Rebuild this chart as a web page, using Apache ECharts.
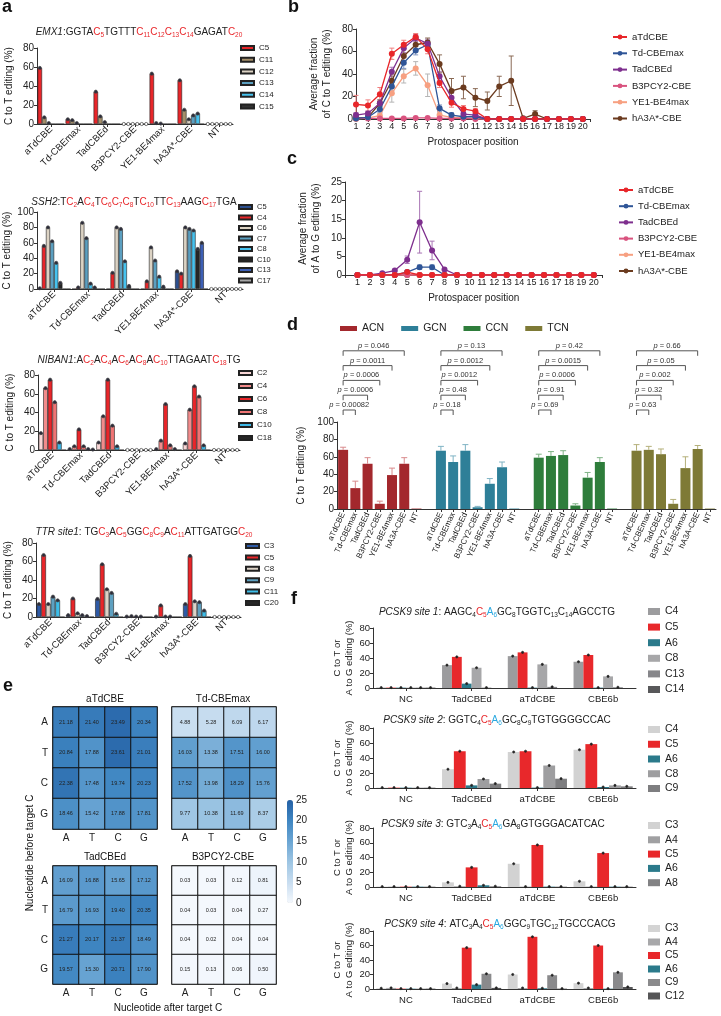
<!DOCTYPE html>
<html><head><meta charset="utf-8">
<script src="https://cdn.jsdelivr.net/npm/echarts@6/dist/echarts.min.js"></script>
<style>html,body{margin:0;padding:0;background:#fff}#c{width:721px;height:1016px}</style>
</head><body><div id="c"></div><script>
// ---------------- DATA ----------------
const catsA7 = ['aTdCBE','Td-CBEmax','TadCBEd','B3PCY2-CBE','YE1-BE4max','hA3A*-CBE','NT'];
const catsA6 = ['aTdCBE','Td-CBEmax','TadCBEd','YE1-BE4max','hA3A*-CBE','NT'];

const emx1Keys = ['C5','C11','C12','C13','C14','C15'];
const emx1Vals = [
  [59,5,34,0,53,46,0],
  [7,4,8,0,1,15,0],
  [1,1,2,0,0.5,5,0],
  [0,0,0,0,0,9,0],
  [0,0,0,0,0,11,0],
  [0,0,0,0,0,0,0]];

const ssh2Keys = ['C5','C4','C6','C7','C8','C10','C13','C17'];
const ssh2Vals = [
  [1,0,0,0,23,0],
  [56,2,21,10,20,0],
  [80,86,80,54,80,0],
  [62,66,78,37,78,0],
  [34,7,36,16,76,0],
  [8,2,4,3,52,0],
  [0,0,0,0,60,0],
  [0,0,0,0,0,0]];

const nibKeys = ['C2','C4','C6','C8','C10','C18'];
const nibVals = [
  [18,1,8,0,1,7,0],
  [66,4,36,0,10,43,0],
  [75,22,75,0,49,68,0],
  [51,4,26,0,5,57,0],
  [8,1,4,0,1,5,0],
  [0,0.5,0,0,0,0,0]];

const ttrKeys = ['C3','C5','C8','C9','C11','C20'];
const ttrVals = [
  [14,2,19.5,0.5,0.5,14,0],
  [67,20,57,1,12.5,66,0],
  [14,4,30,0.5,0.5,17,0],
  [22,2,26,0.5,0.5,16,0],
  [18,1,3.5,0,0,7,0],
  [0,0,0,0,0,0,0]];

// panel b / c : protospacer positions 1..20
const positions = [1,2,3,4,5,6,7,8,9,10,11,12,13,14,15,16,17,18,19,20];
const editors = ['aTdCBE','Td-CBEmax','TadCBEd','B3PCY2-CBE','YE1-BE4max','hA3A*-CBE'];
const bATd   = [13,12,22,58,66,73,62,32,14.5,9,7,0,0,0,0,0,0,0,0,0];
const bTdMax = [0.5,1.5,8.6,29,50,61,66,9.5,3.5,2,2,0,0,0,0,0,0,0,0,0];
const bTadD  = [3.5,5,14,42,63,72,67,38,19,4.4,3.5,0,0,0,0,0,0,0,0,0];
const bB3    = [0.5,0.5,0.5,0.5,0.5,1,1,0.5,0.5,0.5,0,0,0,0,0,0,0,0,0,0];
const bYE1   = [0,1,3,23,38,45,30,3.5,1.5,1,0.5,0,0,0,0,0,0,0,0,0];
const bA3A   = [1,1.5,14,34,56,66,68,49,25,28,19,16,29,34,0.6,4.4,0,0,0,0];
const bATdErr   = [8,5,6,5,4,3,4,4,4,3,2,0,0,0,0,0,0,0,0,0];
const bTdMaxErr = [0,1,3,4,5,4,4,3,2,1,1,0,0,0,0,0,0,0,0,0];
const bTadDErr  = [2,2,3,4,4,3,4,4,4,2,1,0,0,0,0,0,0,0,0,0];
const bB3Err    = [0,0,0,0,0,0,0,0,0,0,0,0,0,0,0,0,0,0,0,0];
const bYE1Err   = [0,0,2,8,6,6,10,2,1,0,0,0,0,0,0,0,0,0,0,0];
const bA3AErr   = [0,0,3,6,7,5,4,8,11,10,8,8,9,22,0,3,0,0,0,0];

const cATd   = [0,0,0,0,0.8,0,0,0,0,0,0,0,0,0,0,0,0,0,0,0];
const cTdMax = [0,0,0,0,0.8,2.1,2.1,0,0,0,0,0,0,0,0,0,0,0,0,0];
const cTadD  = [0,0,0.5,1.2,4.1,14.2,6.6,1.5,0,0,0,0,0,0,0,0,0,0,0,0];
const cB3    = [0,0,0,0,0,0,0,0,0,0,0,0,0,0,0,0,0,0,0,0];
const cYE1   = [0,0,0,0,0,0,0,0,0,0,0,0,0,0,0,0,0,0,0,0];
const cA3A   = [0,0,0,0,0,0,0,0,0,0,0,0,0,0,0,0,0,0,0,0];
const cTadDErr  = [0,0,0,0.3,1,8.3,2.5,0.3,0,0,0,0,0,0,0,0,0,0,0,0];
const cTdMaxErr = [0,0,0,0,0.3,0.6,0.6,0,0,0,0,0,0,0,0,0,0,0,0,0];

// panel d
const dEditors = ['aTdCBE','Td-CBEmax','TadCBEd','B3PCY2-CBE','YE1-BE4max','hA3A-CBE','NT'];
const dMotifs = ['ACN','GCN','CCN','TCN'];
const dACN = [68,24,52,6,39,52,0.5];
const dGCN = [67,54,67,2,29,48,0.5];
const dCCN = [59,61,62,4,36,54,0.5];
const dTCN = [67,68,63,6,47,69,0.5];
const dACNErr = [3,8,7,3,8,7,0];
const dGCNErr = [5,7,7,1,6,6,0];
const dCCNErr = [4,5,5,2,6,5,0];
const dTCNErr = [7,4,6,5,13,4,0];
const dPACN = ['0.00082','0.0006','0.0006','0.0011','0.046'];
const dPGCN = ['0.18','0.48','0.0012','0.0012','0.13'];
const dPCCN = ['0.69','0.91','0.0006','0.0015','0.42'];
const dPTCN = ['0.63','0.32','0.002','0.05','0.66'];

// panel e heatmaps (rows: nucleotide before, cols: nucleotide after)
const nts = ['A','T','C','G'];
const hmATd = [[21.18,21.40,23.49,20.34],[20.84,17.88,23.61,21.01],[22.38,17.48,19.74,20.23],[18.46,15.42,17.88,17.81]];
const hmTdMax = [[4.88,5.28,6.09,6.17],[16.03,13.38,17.51,16.00],[17.52,13.98,18.29,15.76],[9.77,10.38,11.69,8.37]];
const hmTadD = [[16.09,16.88,15.65,17.12],[16.79,16.93,19.40,20.35],[21.27,20.17,21.37,18.49],[19.57,15.30,20.71,17.90]];
const hmB3 = [[0.03,0.03,0.12,0.81],[0.04,0.03,0.04,0.27],[0.04,0.02,0.04,0.04],[0.15,0.13,0.06,0.50]];

// panel f
const fCats = ['NC','TadCBEd','aTdCBE','CBE6b'];
const f1Keys = ['C4','C5','A6','C8','C13','C14'];
const f1Vals = [[0.5,30.5,42.5,35],[0.5,41.5,47.5,44],[0.5,5.8,0.5,0.5],[0.5,27,31.5,15.5],[0.5,0.5,1.5,1],[0.5,0,0,0]];
const f2Keys = ['C4','C5','A6','C8','C9'];
const f2Vals = [[0.5,25,48,51],[0.5,49,49,58.5],[0.5,3.5,0.5,1.3],[0.5,12,30,3.5],[0.5,5.8,12.4,2.2]];
const f3Keys = ['C3','A4','C5','A6','A8'];
const f3Vals = [[0.5,6.3,31.5,7.7],[0.5,1,0.5,0.5],[0.5,26.6,57,46],[0.5,2.3,0.5,0.5],[0.5,1,0.5,0.5]];
const f4Keys = ['C3','A4','C5','A6','C9','C12'];
const f4Vals = [[1,7.4,20,8],[1.5,1.4,1.4,1.4],[0.5,57,72,60],[0.5,6,1,0.5],[0.5,21,19,23],[0.5,1.5,0.5,2.8]];

// ---------------- BUILD ----------------
const FF = 'Liberation Sans';
const grids = [], xAxes = [], yAxes = [], series = [], legends = [], graphics = [];
const strip = n => n.slice(n.indexOf('|') + 1);
const axLine = {show:true, lineStyle:{color:'#333', width:1}};
const axTick = {show:true, length:3, lineStyle:{color:'#333'}};

// replicate-marker dots on top of grouped bars (positions derived from the category band)
function dotSeries(gi, vals, gapFrac, zeroCats, st) {
  const n = vals.length, items = [];
  vals.forEach((row, s) => row.forEach((v, c) => { if (v > 0 || zeroCats.indexOf(c) >= 0) items.push([c, v, s]); }));
  return {type:'custom', xAxisIndex:gi, yAxisIndex:gi, data:items, encode:{x:0, y:1}, z:5, silent:true,
    renderItem(params, api) {
      const c = api.value(0), v = api.value(1), s = api.value(2);
      const pt = api.coord([c, v]);
      const bw = api.size([1, 0])[0] * (1 - gapFrac);
      const x = pt[0] - bw / 2 + (s + 0.5) * bw / n;
      return {type:'circle', shape:{cx:x, cy:pt[1], r:st.r},
        style:{fill:v > 0 ? st.fill : '#fff', stroke:st.stroke, lineWidth:0.7}};
    }};
}

function barPanel(p) {
  const gi = grids.length;
  grids.push({left:p.left, top:p.top, width:p.width, height:p.height});
  xAxes.push({type:'category', gridIndex:gi, data:p.cats, axisLine:axLine,
    axisTick:{show:true, alignWithLabel:true, length:3, lineStyle:{color:'#333'}},
    axisLabel:{interval:0, rotate:p.rotate || 0, fontSize:p.xFont, color:'#222', fontFamily:FF, margin:p.xMargin || 4}});
  yAxes.push({type:'value', gridIndex:gi, min:0, max:p.max, interval:20, axisLine:axLine, axisTick:axTick,
    splitLine:{show:false}, axisLabel:{fontSize:p.yFont || 10, color:'#222', fontFamily:FF, margin:3},
    name:p.yName, nameLocation:'middle', nameGap:p.nameGap,
    nameTextStyle:{fontSize:p.nameFont || 10, color:'#222', fontFamily:FF, lineHeight:12}});
  const names = [];
  p.keys.forEach((k, i) => {
    const nm = p.id + '|' + k; names.push(nm);
    series.push({type:'bar', name:nm, xAxisIndex:gi, yAxisIndex:gi, data:p.vals[i],
      barGap:'0%', barCategoryGap:p.catGap,
      itemStyle:{color:p.colors[i], borderColor:p.border ? '#222' : p.colors[i], borderWidth:p.border ? 0.6 : 0}});
  });
  series.push(dotSeries(gi, p.vals, parseFloat(p.catGap) / 100, p.zeroCats || [], p.dot));
  legends.push({orient:'vertical', left:p.leg.left, top:p.leg.top, itemWidth:p.leg.iw, itemHeight:p.leg.ih,
    itemGap:p.leg.gap, padding:0, icon:'rect', selectedMode:false, data:names, formatter:strip,
    textStyle:{fontSize:p.leg.font, color:'#222', fontFamily:FF, lineHeight:10}});
  return gi;
}

const aDot = {r:1.6, fill:'#2b2b3b', stroke:'#444'};
const aCommon = {border:true, xFont:9.5, rotate:45, yName:'C to T editing (%)', nameGap:22, catGap:'4%', dot:aDot};
barPanel(Object.assign({}, aCommon, {id:'emx', left:37, top:48, width:196, height:76, cats:catsA7, max:80,
  keys:emx1Keys, vals:emx1Vals, colors:['#e8262a','#a58f6a','#dcd3c4','#5b9fc0','#47c2ee','#333333'], zeroCats:[3,6],
  leg:{left:240, top:43, iw:13, ih:4, gap:1.7, font:8}}));
barPanel(Object.assign({}, aCommon, {id:'ssh', left:37, top:212, width:206, height:77, cats:catsA6, max:100,
  keys:ssh2Keys, vals:ssh2Vals, colors:['#2c4f8f','#e8262a','#dcd3c4','#5b9fc0','#47c2ee','#262626','#3d5fb5','#a7a7a7'], zeroCats:[5],
  leg:{left:238, top:202, iw:13, ih:4, gap:0.5, font:7.5}}));
barPanel(Object.assign({}, aCommon, {id:'nib', left:38, top:375, width:202, height:75, cats:catsA7, max:80,
  keys:nibKeys, vals:nibVals, colors:['#f8d6d6','#f28b8b','#e8262a','#ef7474','#3db7e6','#262626'], zeroCats:[3,6],
  leg:{left:238, top:368, iw:13, ih:4, gap:3, font:8}}));
barPanel(Object.assign({}, aCommon, {id:'ttr', left:36, top:543, width:205, height:74, cats:catsA7, max:80,
  keys:ttrKeys, vals:ttrVals, colors:['#2e5aa6','#e8262a','#dcd3c8','#5ea0c0','#3dbde8','#262626'], zeroCats:[6],
  leg:{left:245, top:541, iw:13, ih:4, gap:1.4, font:8}}));

// error bar custom series helper
function errSeries(gi, items, color, capW, onlyUp, z) {
  return {type:'custom', xAxisIndex:gi, yAxisIndex:gi, data:items, encode:{x:0, y:1}, z:z || 1, silent:true,
    renderItem(params, api) {
      const x = api.value(0), y = api.value(1), e = api.value(2);
      const t = api.coord([x, y + e]), b = api.coord([x, onlyUp ? y : Math.max(0, y - e)]);
      const h = capW / 2, st = {stroke:color, lineWidth:1};
      const ch = [
        {type:'line', shape:{x1:t[0], y1:t[1], x2:b[0], y2:b[1]}, style:st},
        {type:'line', shape:{x1:t[0] - h, y1:t[1], x2:t[0] + h, y2:t[1]}, style:st}];
      if (!onlyUp) ch.push({type:'line', shape:{x1:b[0] - h, y1:b[1], x2:b[0] + h, y2:b[1]}, style:st});
      return {type:'group', children:ch};
    }};
}

// ---- panels b, c ----
const edColors = ['#e8262a','#2f5597','#7e2f8e','#d9537f','#f7a081','#6b3b1f'];
const errColors = ['#f08080','#8296c0','#a874b4','#e08aa8','#b5b5b5','#8a6a55'];
function linePanel(p) {
  const gi = grids.length;
  grids.push({left:p.left, top:p.top, width:p.width, height:p.height});
  xAxes.push({type:'value', gridIndex:gi, min:p.xmin, max:p.xmax, interval:1, axisLine:axLine, axisTick:axTick,
    splitLine:{show:false},
    axisLabel:{fontSize:9, color:'#222', fontFamily:FF, margin:3,
      formatter:v => (v >= 1 && v <= 20 && Math.abs(v - Math.round(v)) < 1e-6) ? String(Math.round(v)) : ''},
    name:'Protospacer position', nameLocation:'middle', nameGap:p.xNameGap,
    nameTextStyle:{fontSize:10, color:'#222', fontFamily:FF}});
  yAxes.push({type:'value', gridIndex:gi, min:0, max:p.ymax, interval:p.yint, axisLine:axLine, axisTick:axTick,
    splitLine:{show:false}, axisLabel:{fontSize:10, color:'#222', fontFamily:FF, margin:3},
    name:p.yName, nameLocation:'middle', nameGap:p.yNameGap,
    nameTextStyle:{fontSize:10, color:'#222', fontFamily:FF, lineHeight:13}});
  const names = editors.map(e => p.id + '|' + e);
  p.errs.forEach((er, i) => {
    if (!er) return;
    const items = [];
    er.forEach((e, j) => { if (e > 0) items.push([positions[j], p.vals[i][j], e]); });
    series.push(errSeries(gi, items, errColors[i], 5, false, 1));
  });
  p.order.forEach((i, k) => {
    series.push({type:'line', name:names[i], xAxisIndex:gi, yAxisIndex:gi, z:3 + k,
      data:positions.map((x, j) => [x, p.vals[i][j]]), symbol:'circle', symbolSize:p.sym,
      lineStyle:{width:1.3, color:edColors[i]}, itemStyle:{color:edColors[i]}});
  });
  legends.push({orient:'vertical', left:p.leg.left, top:p.leg.top, itemWidth:14, itemHeight:6, itemGap:p.leg.gap,
    padding:0, selectedMode:false, data:names, formatter:strip,
    textStyle:{fontSize:9.5, color:'#222', fontFamily:FF, lineHeight:10}});
}
linePanel({id:'b', left:356, top:29, width:234, height:90, xmin:1, xmax:20.6, ymax:80, yint:20, xNameGap:18,
  yName:'Average fraction\nof C to T editing (%)', yNameGap:22, sym:6,
  vals:[bATd,bTdMax,bTadD,bB3,bYE1,bA3A], errs:[bATdErr,bTdMaxErr,bTadDErr,bB3Err,bYE1Err,bA3AErr],
  order:[5,4,3,1,2,0], leg:{left:612, top:32, gap:6.3}});
linePanel({id:'c', left:345, top:182, width:257.5, height:93, xmin:0, xmax:20.7, ymax:25, yint:5, xNameGap:18,
  yName:'Average fraction\nof A to G editing (%)', yNameGap:22, sym:6,
  vals:[cATd,cTdMax,cTadD,cB3,cYE1,cA3A], errs:[null,cTdMaxErr,cTadDErr,null,null,null],
  order:[5,4,1,2,3,0], leg:{left:618, top:185, gap:6.2}});

// ---- panel d ----
{
  const gi = grids.length;
  const cats = [];
  dMotifs.forEach((m, g) => { dEditors.forEach(e => cats.push(e)); if (g < 3) cats.push(''); });
  grids.push({left:337, top:422, width:379, height:87});
  xAxes.push({type:'category', gridIndex:gi, data:cats, axisLine:axLine,
    axisTick:{show:true, alignWithLabel:true, length:3, lineStyle:{color:'#333'}, interval:(i, v) => v !== ''},
    axisLabel:{interval:0, rotate:65, fontSize:8, color:'#222', fontFamily:FF, margin:4}});
  yAxes.push({type:'value', gridIndex:gi, min:0, max:100, interval:20, axisLine:axLine, axisTick:axTick,
    splitLine:{show:false}, axisLabel:{fontSize:10, color:'#222', fontFamily:FF, margin:3},
    name:'C to T editing (%)', nameLocation:'middle', nameGap:24,
    nameTextStyle:{fontSize:10, color:'#222', fontFamily:FF}});
  const dVals = [dACN, dGCN, dCCN, dTCN], dErrs = [dACNErr, dGCNErr, dCCNErr, dTCNErr];
  const dCols = ['#a3282d','#2e7f98','#2e7d3b','#7e7a36'];
  const dErrCols = ['#d88a8c','#7fb3c4','#7fb386','#b4b07a'];
  const names = [];
  dVals.forEach((vals, g) => {
    const data = cats.map(() => '-');
    const errItems = [];
    vals.forEach((v, j) => { data[g * 8 + j] = v; if (dErrs[g][j] > 0) errItems.push([g * 8 + j, v, dErrs[g][j]]); });
    const nm = 'd|' + dMotifs[g]; names.push(nm);
    series.push({type:'bar', name:nm, xAxisIndex:gi, yAxisIndex:gi, data, barGap:'-100%', barWidth:10,
      itemStyle:{color:dCols[g]}});
    series.push(errSeries(gi, errItems, dErrCols[g], 6, true, 4));
  });
  legends.push({orient:'horizontal', left:340, top:323, itemWidth:17, itemHeight:5, itemGap:17, padding:0,
    icon:'rect', selectedMode:false, data:names, formatter:strip,
    textStyle:{fontSize:10.5, color:'#222', fontFamily:FF}});
  // significance brackets
  const pAll = [dPACN, dPGCN, dPCCN, dPTCN];
  const br = [];
  pAll.forEach((ps, g) => ps.forEach((p, k) => br.push({from:g * 8, to:g * 8 + k + 1, lvl:k, p})));
  series.push({type:'custom', xAxisIndex:gi, yAxisIndex:gi, silent:true, z:6, encode:{x:0, y:1},
    data:br.map(b => [b.from, 100, b.to]),
    renderItem(params, api) {
      const b = br[params.dataIndex];
      const p1 = api.coord([b.from, 100]), p2 = api.coord([b.to, 100]);
      const y = p1[1] - (12 + b.lvl * 14.8);
      return {type:'group', children:[
        {type:'polyline', shape:{points:[[p1[0], y + 5], [p1[0], y], [p2[0], y], [p2[0], y + 5]]},
          style:{stroke:'#555', lineWidth:1, fill:null}},
        {type:'text', style:{text:'{i|p} = ' + b.p, x:(p1[0] + p2[0]) / 2, y:y - 1, align:'center',
          verticalAlign:'bottom', fontSize:7.5, fontFamily:FF, fill:'#333',
          rich:{i:{fontStyle:'italic', fontSize:7.5, fontFamily:FF, fill:'#333'}}}}]};
    }});
}

// ---- panel e: heatmaps ----
const hmSeriesIdx = [];
function heatPanel(m, left, top, h, showY) {
  const gi = grids.length;
  grids.push({left, top, width:104, height:h, show:true, borderColor:'#666', borderWidth:1.5, backgroundColor:'transparent'});
  xAxes.push({type:'category', gridIndex:gi, data:nts, axisLine:{show:false}, axisTick:{show:false},
    splitLine:{show:false}, axisLabel:{fontSize:10, color:'#222', fontFamily:FF, margin:4}});
  yAxes.push({type:'category', gridIndex:gi, data:nts, inverse:true, axisLine:{show:false}, axisTick:{show:false},
    axisLabel:{show:showY, fontSize:10, color:'#222', fontFamily:FF, margin:5}});
  const data = [];
  m.forEach((row, r) => row.forEach((v, c) => data.push([c, r, v])));
  hmSeriesIdx.push(series.length);
  series.push({type:'heatmap', xAxisIndex:gi, yAxisIndex:gi, data,
    label:{show:true, fontSize:5.5, color:'#222', fontFamily:FF, formatter:p => p.value[2].toFixed(2)},
    itemStyle:{borderColor:'#111', borderWidth:1}});
}
heatPanel(hmATd, 53, 707, 122, true);
heatPanel(hmTdMax, 172, 707, 122, false);
heatPanel(hmTadD, 53, 866, 118, true);
heatPanel(hmB3, 172, 866, 118, false);
{
  const gi = grids.length;
  grids.push({left:287, top:800, width:6, height:103});
  xAxes.push({type:'value', gridIndex:gi, show:false, min:0, max:1});
  yAxes.push({type:'value', gridIndex:gi, position:'right', min:0, max:25, interval:5, axisLine:{show:false},
    axisTick:{show:false}, splitLine:{show:false}, axisLabel:{fontSize:10, color:'#222', fontFamily:FF, margin:3}});
}

// ---- panel f ----
const fTeal = '#2b7a8b', fRed = '#e8282b';
const fDot = {r:1.1, fill:'#222', stroke:'#222'};
const fCommon = {border:false, xFont:9.5, rotate:0, yName:'C to T or\nA to G editing (%)', nameGap:16, nameFont:9.5,
  catGap:'10%', yFont:9.5, xMargin:6, dot:fDot};
barPanel(Object.assign({}, fCommon, {id:'f1', left:373, top:628, width:263, height:60, cats:fCats, max:80,
  keys:f1Keys, vals:f1Vals, colors:['#9c9c9e',fRed,fTeal,'#a7a7a9','#86868a','#58585a'],
  leg:{left:648, top:606, iw:12, ih:7, gap:4.6, font:10.5}}));
barPanel(Object.assign({}, fCommon, {id:'f2', left:373, top:728, width:263, height:60, cats:fCats, max:80,
  keys:f2Keys, vals:f2Vals, colors:['#d2d2d2',fRed,fTeal,'#9e9ea0','#7e7e80'],
  leg:{left:648, top:724, iw:12, ih:7, gap:3.75, font:10.5}}));
barPanel(Object.assign({}, fCommon, {id:'f3', left:373, top:828, width:263, height:59, cats:fCats, max:80,
  keys:f3Keys, vals:f3Vals, colors:['#d2d2d2','#a0a0a2',fRed,fTeal,'#828284'],
  leg:{left:648, top:820, iw:12, ih:7, gap:3.3, font:10.5}}));
barPanel(Object.assign({}, fCommon, {id:'f4', left:373, top:931, width:263, height:58, cats:fCats, max:80,
  keys:f4Keys, vals:f4Vals, colors:['#d4d4d4','#a8a8aa',fRed,fTeal,'#8a8a8c','#555557'],
  leg:{left:648, top:923, iw:12, ih:7, gap:2.5, font:10.5}}));

// ---------------- TEXT (titles, panel letters) ----------------
const richA = {
  i:{fontStyle:'italic', fontSize:10, fontFamily:FF, fill:'#222', lineHeight:14},
  n:{fontSize:10, fontFamily:FF, fill:'#222', lineHeight:14},
  r:{fontSize:10, fontFamily:FF, fill:'#e8262a', lineHeight:14},
  rs:{fontSize:6.5, fontFamily:FF, fill:'#e8262a', lineHeight:14, verticalAlign:'bottom'},
  s:{fontSize:6.5, fontFamily:FF, fill:'#222', lineHeight:14, verticalAlign:'bottom'},
  b:{fontSize:10, fontFamily:FF, fill:'#29a8e0', lineHeight:14},
  bs:{fontSize:6.5, fontFamily:FF, fill:'#29a8e0', lineHeight:14, verticalAlign:'bottom'}
};
function txt(x, y, text, o) {
  o = o || {};
  graphics.push({type:'text', x, y, rotation:o.rot || 0, z:10, silent:true,
    style:{text, fontSize:o.size || 10, fontFamily:FF, fontWeight:o.bold ? 'bold' : 'normal', fill:'#111',
      align:o.align || 'center', verticalAlign:o.va || 'middle', rich:o.rich}});
}
txt(139, 32, '{i|EMX1}{n|:GGTA}{r|C}{rs|5}{n|TGTTT}{r|C}{rs|11}{r|C}{rs|12}{r|C}{rs|13}{r|C}{rs|14}{n|GAGAT}{r|C}{rs|20}', {rich:richA});
txt(134, 202, '{i|SSH2}{n|:T}{r|C}{rs|2}{n|A}{r|C}{rs|4}{n|T}{r|C}{rs|6}{r|C}{rs|7}{r|C}{rs|8}{n|T}{r|C}{rs|10}{n|TT}{r|C}{rs|13}{n|AAG}{r|C}{rs|17}{n|TGA}', {rich:richA});
txt(139, 360, '{i|NIBAN1}{n|:A}{r|C}{rs|2}{n|A}{r|C}{rs|4}{n|A}{r|C}{rs|6}{n|A}{r|C}{rs|8}{n|A}{r|C}{rs|10}{n|TTAGAAT}{r|C}{rs|18}{n|TG}', {rich:richA});
txt(144, 532, '{i|TTR site1}{n|: TG}{r|C}{rs|3}{n|A}{r|C}{rs|5}{n|GG}{r|C}{rs|8}{r|C}{rs|9}{n|A}{r|C}{rs|11}{n|ATTGATGG}{r|C}{rs|20}', {rich:richA});
txt(497, 612, '{i|PCSK9 site 1}{n|: AAGC}{s|4}{r|C}{rs|5}{b|A}{bs|6}{n|GC}{s|8}{n|TGGTC}{s|13}{n|C}{s|14}{n|AGCCTG}', {rich:richA});
txt(497, 720, '{i|PCSK9 site 2}{n|: GGTC}{s|4}{r|C}{rs|5}{b|A}{bs|6}{n|GC}{s|8}{n|C}{s|9}{n|TGTGGGGCCAC}', {rich:richA});
txt(493, 824, '{i|PCSK9 site 3}{n|: GTC}{s|3}{n|A}{s|4}{r|C}{rs|5}{b|A}{bs|6}{n|GA}{s|8}{n|GTGGGACATCAC}', {rich:richA});
txt(500, 924, '{i|PCSK9 site 4}{n|: ATC}{s|3}{n|A}{s|4}{r|C}{rs|5}{b|A}{bs|6}{n|GGC}{s|9}{n|TGC}{s|12}{n|TGCCCACG}', {rich:richA});
// heatmap titles and axis titles
txt(105, 699, 'aTdCBE', {size:10});
txt(223, 699, 'Td-CBEmax', {size:10});
txt(105, 857, 'TadCBEd', {size:10});
txt(223, 857, 'B3PCY2-CBE', {size:10});
txt(30, 853, 'Nucleotide before target C', {size:10, rot:Math.PI / 2});
txt(168, 1008, 'Nucleotide after target C', {size:10});
// panel letters
const L = {size:18, bold:true, align:'left', va:'top'};
txt(2, -2, 'a', L); txt(288, -2, 'b', L); txt(287, 150, 'c', L);
txt(287, 316, 'd', L); txt(3, 677, 'e', L); txt(291, 590, 'f', L);

// ---------------- CHART ----------------
const chart = echarts.init(document.getElementById('c'));
chart.setOption({
  animation:false,
  backgroundColor:'#fff',
  textStyle:{fontFamily:FF},
  grid:grids, xAxis:xAxes, yAxis:yAxes, legend:legends, series,
  visualMap:{type:'continuous', min:0, max:25, seriesIndex:hmSeriesIdx, calculable:false, orient:'vertical',
    left:287, top:800, itemWidth:6, itemHeight:103, padding:0, text:null, show:true,
    inRange:{color:['#f4f8fd','#c8ddf0','#9dc5e3','#6aa5d3','#3f86c2','#2460a5']}},
  graphic:graphics
});
</script></body></html>
